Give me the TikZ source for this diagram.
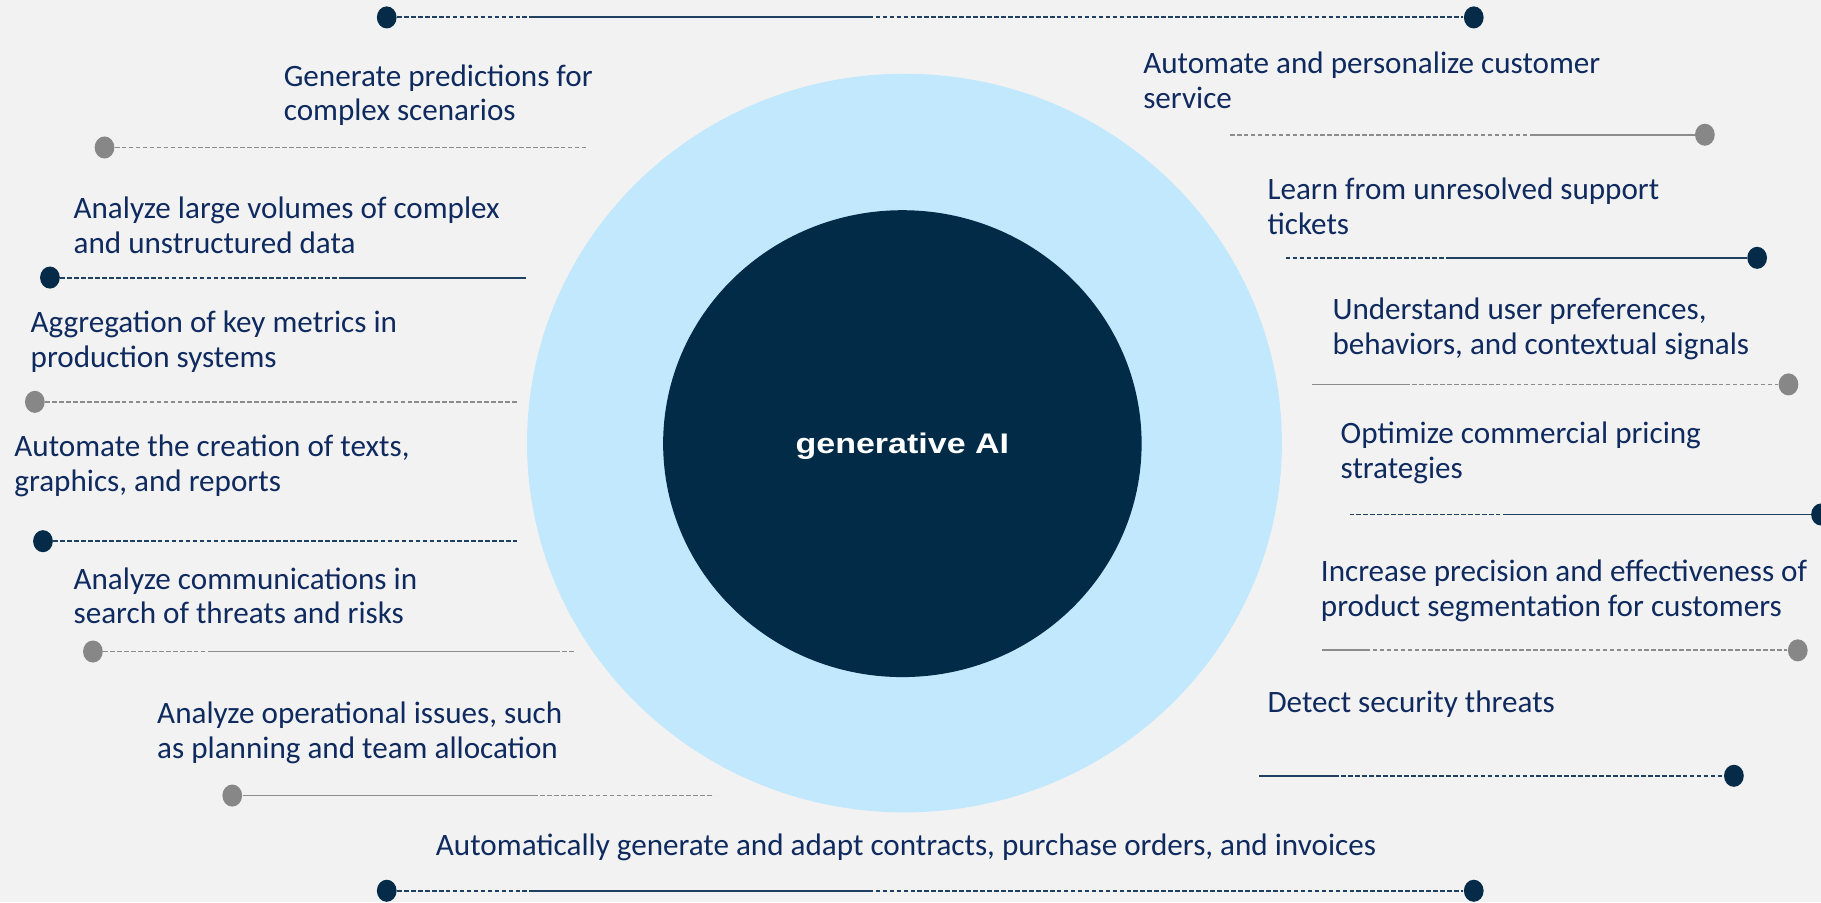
\documentclass[tikz,border=0pt]{standalone}
\usepackage{fontspec}
\setmainfont{Carlito}
\newfontfamily\arialfont{Liberation Sans}
\usetikzlibrary{shapes.geometric}
\definecolor{bgc}{HTML}{F2F2F2}
\definecolor{outerc}{HTML}{C1E8FC}
\definecolor{innerc}{HTML}{012B47}
\definecolor{txtc}{HTML}{0F2A5E}
\definecolor{linedark}{HTML}{1F4060}
\definecolor{dotdark}{HTML}{052B48}
\definecolor{linegray}{HTML}{8C8C8C}
\definecolor{dotgray}{HTML}{878787}
\begin{document}
\begin{tikzpicture}[x=0.5pt,y=-0.5pt,
  lbl/.style={anchor=west, inner sep=0pt, align=left, text=txtc, font=\fontsize{13.4}{15}\selectfont},
  dotd/.style={ellipse, fill=dotdark, minimum width=8.5pt, minimum height=9.5pt, inner sep=0pt},
  dotg/.style={ellipse, fill=dotgray, minimum width=8.5pt, minimum height=9.5pt, inner sep=0pt},
  lnd/.style={draw=linedark, line width=0.85pt},
  lng/.style={draw=linegray, line width=0.75pt},
  dsh/.style={dash pattern=on 2pt off 1pt}
]
\useasboundingbox (0,0) rectangle (1568,777);
\fill[bgc] (0,0) rectangle (1568,777);
\clip (0,0) rectangle (1568,777);

% central circles
\node[ellipse, fill=outerc, minimum width=325pt, minimum height=318pt, inner sep=0pt] (outer) at (778.8,381.5) {};
\node[ellipse, fill=innerc, minimum width=206pt, minimum height=201pt, inner sep=0pt] (inner) at (777,382) {};
\node[text=white, inner sep=0pt, font=\arialfont\bfseries\fontsize{12.2}{14}\selectfont] (ai) at (777,384) {\scalebox{1.2}[1]{generative AI}};

% top line
\node[dotd] (tl) at (333,15) {};
\node[dotd] (tr) at (1269,15) {};
\coordinate (tm1) at (460,15);
\coordinate (tm2) at (748,15);
\draw[lnd,dsh] (tl) -- (tm1);
\draw[lnd] (tm1) -- (tm2);
\draw[lnd,dsh] (tm2) -- (tr);

% bottom line
\node[lbl] (tb) at (375,730) {Automatically generate and adapt contracts, purchase orders, and invoices};
\node[dotd] (bl) at (333,767) {};
\node[dotd] (br) at (1269,767) {};
\coordinate (bm1) at (460,767);
\coordinate (bm2) at (748,767);
\draw[lnd,dsh] (bl) -- (bm1);
\draw[lnd] (bm1) -- (bm2);
\draw[lnd,dsh] (bm2) -- (br);

% left 1
\node[lbl] (l1) at (244,82) {Generate predictions for\\complex scenarios};
\node[dotg] (ld1) at (90,127) {};
\coordinate (le1) at (505,127);
\draw[lng,dsh] (ld1) -- (le1);

% left 2
\node[lbl] (l2) at (63,194) {Analyze large volumes of complex\\and unstructured data};
\node[dotd] (ld2) at (43,239) {};
\coordinate (lm2) at (295,239);
\coordinate (le2) at (453,239);
\draw[lnd,dsh] (ld2) -- (lm2);
\draw[lnd] (lm2) -- (le2);

% left 3
\node[lbl] (l3) at (26,294) {Aggregation of key metrics in\\production systems};
\node[dotg] (ld3) at (30,346) {};
\coordinate (le3) at (445,346);
\draw[lng,dsh] (ld3) -- (le3);

% left 4
\node[lbl] (l4) at (12,401) {Automate the creation of texts,\\graphics, and reports};
\node[dotd] (ld4) at (37,466) {};
\coordinate (le4) at (445,466);
\draw[lnd,dsh] (ld4) -- (le4);

% left 5
\node[lbl] (l5) at (63,513) {Analyze communications in\\search of threats and risks};
\node[dotg] (ld5) at (80,561) {};
\coordinate (lm5a) at (182,561);
\coordinate (lm5b) at (478,561);
\coordinate (le5) at (496,561);
\draw[lng,dsh] (ld5) -- (lm5a);
\draw[lng] (lm5a) -- (lm5b);
\draw[lng,dsh] (lm5b) -- (le5);

% left 6
\node[lbl] (l6) at (135,631) {Analyze operational issues, such\\as planning and team allocation};
\node[dotg] (ld6) at (200,685) {};
\coordinate (lm6) at (459,685);
\coordinate (le6) at (615,685);
\draw[lng] (ld6) -- (lm6);
\draw[lng,dsh] (lm6) -- (le6);

% right 1
\node[lbl] (r1) at (984,69) {Automate and personalize customer\\service};
\node[dotg] (rd1) at (1468,116) {};
\coordinate (rs1) at (1059,116);
\coordinate (rm1) at (1319,116);
\draw[lng,dsh] (rs1) -- (rm1);
\draw[lng] (rm1) -- (rd1);

% right 2
\node[lbl] (r2) at (1091,178) {Learn from unresolved support\\tickets};
\node[dotd] (rd2) at (1513,222) {};
\coordinate (rs2) at (1107,222);
\coordinate (rm2) at (1248,222);
\draw[lnd,dsh] (rs2) -- (rm2);
\draw[lnd] (rm2) -- (rd2);

% right 3
\node[lbl] (r3) at (1147,283) {Understand user preferences,\\behaviors, and contextual signals};
\node[dotg] (rd3) at (1540,331) {};
\coordinate (rs3) at (1130,331);
\coordinate (rm3) at (1210,331);
\draw[lng] (rs3) -- (rm3);
\draw[lng,dsh] (rm3) -- (rd3);

% right 4
\node[lbl] (r4) at (1154,390) {Optimize commercial pricing\\strategies};
\node[dotd] (rd4) at (1568,443) {};
\coordinate (rs4) at (1162,443);
\coordinate (rm4) at (1296,443);
\draw[lnd,dsh] (rs4) -- (rm4);
\draw[lnd] (rm4) -- (rd4);

% right 5
\node[lbl] (r5) at (1137,509) {Increase precision and effectiveness of\\product segmentation for customers};
\node[dotg] (rd5) at (1548,560) {};
\coordinate (rs5) at (1138,560);
\coordinate (rm5) at (1176,560);
\draw[lng] (rs5) -- (rm5);
\draw[lng,dsh] (rm5) -- (rd5);

% right 6
\node[lbl] (r6) at (1091,606) {Detect security threats};
\node[dotd] (rd6) at (1493,668) {};
\coordinate (rs6) at (1084,668);
\coordinate (rm6) at (1149,668);
\draw[lnd] (rs6) -- (rm6);
\draw[lnd,dsh] (rm6) -- (rd6);
\end{tikzpicture}
\end{document}
